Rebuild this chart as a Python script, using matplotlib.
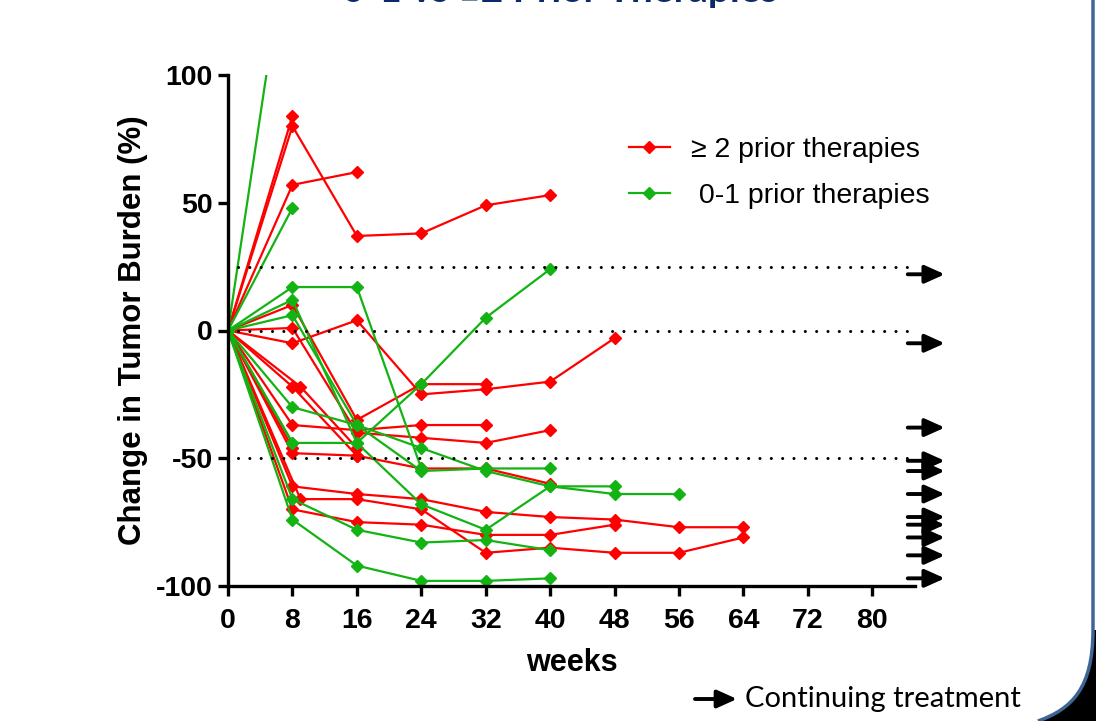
import numpy as np
import matplotlib.pyplot as plt
from matplotlib.path import Path
from matplotlib.patches import PathPatch, FancyArrowPatch
from matplotlib.lines import Line2D

plt.rcParams['axes.unicode_minus'] = False

# weeks on treatment and % change in tumor burden, one list per patient
red_weeks = [
    [0, 8], [0, 8, 16, 24, 32, 40], [0, 8, 16], [0, 8, 16, 24, 32],
    [0, 8, 16, 24, 32, 40], [0, 8, 16, 24, 32, 40, 48], [0, 8, 16, 24, 32],
    [0, 8, 16, 24, 32, 40], [0, 9, 16], [0, 8, 16], [0, 8],
    [0, 8, 16, 24, 32, 40, 48, 56, 64], [0, 9, 16, 24, 32, 40, 48, 56, 64],
    [0, 8, 16, 24, 32, 40, 48],
]
red_change = [
    [0, 84], [0, 80, 37, 38, 49, 53], [0, 57, 62], [0, 10, -35, -21, -21],
    [0, 1, -40, -42, -44, -39], [0, -5, 4, -25, -23, -20, -3], [0, -37, -39, -37, -37],
    [0, -22, -49, -54, -54, -60], [0, -22, -46], [0, -48, -49], [0, -46],
    [0, -61, -64, -66, -71, -73, -74, -77, -77], [0, -66, -66, -70, -87, -85, -87, -87, -81],
    [0, -70, -75, -76, -80, -80, -76],
]
green_weeks = [
    [0, 8], [0, 8], [0, 8, 16, 24], [0, 8, 16, 24, 32, 40, 48],
    [0, 8, 16, 24, 32, 40], [0, 8, 16, 24, 32, 40, 48, 56], [0, 8, 16, 24, 32, 40],
    [0, 8], [0, 8, 16, 24, 32, 40], [0, 8, 16, 24, 32, 40],
]
green_change = [
    [0, 168], [0, 48], [0, 17, 17, -54], [0, 12, -44, -68, -78, -61, -61],
    [0, 6, -37, -55, -54, -54], [0, -30, -37, -46, -55, -61, -64, -64], [0, -44, -44, -21, 5, 24],
    [0, -44], [0, -66, -78, -83, -82, -86], [0, -74, -92, -98, -98, -97],
]
# patients still on treatment
continuing = [22, -5, -38, -51, -55, -64, -73, -76, -81, -88, -97]
ref_levels = [25, 0, -50]
x_ticks = list(range(0, 81, 8))
y_ticks = [-100, -50, 0, 50, 100]

RED = '#FF0000'
GREEN = '#12B312'
ARROW = '-|>,head_length=0.6,head_width=0.27'

fig = plt.figure(figsize=(10.96, 7.21), dpi=100)
ax = fig.add_axes([228 / 1096, 1 - 586 / 721, 687 / 1096, 511 / 721])

for wk, val in zip(red_weeks, red_change):
    ax.plot(wk, val, color=RED, lw=1.6, marker='D', ms=6.5, mec=RED)
for wk, val in zip(green_weeks, green_change):
    ax.plot(wk, val, color=GREEN, lw=1.6, marker='D', ms=6.5, mec=GREEN)

for lvl in ref_levels:
    ax.plot([1.2, 84.5], [lvl, lvl], color='black', lw=2.2,
            linestyle=(0, (0.01, 3.7)), dash_capstyle='round', clip_on=False)

for v in continuing:
    ax.annotate('', xy=(89.0, v), xytext=(84.4, v), annotation_clip=False,
                arrowprops=dict(arrowstyle=ARROW, color='black', lw=2.8,
                                mutation_scale=20, shrinkA=0, shrinkB=0))

ax.set_xlim(0, 85.3)
ax.set_ylim(-100, 100)
ax.set_xticks(x_ticks)
ax.set_yticks(y_ticks)
ax.spines['top'].set_visible(False)
ax.spines['right'].set_visible(False)
for s in ('left', 'bottom'):
    ax.spines[s].set_linewidth(2.4)
ax.tick_params(length=7, width=2.4, labelsize=20.5)
ax.tick_params(axis='x', pad=9)
ax.tick_params(axis='y', pad=4)
for lab in ax.get_xticklabels() + ax.get_yticklabels():
    lab.set_fontweight('bold')
    lab.set_family('Liberation Sans')
ax.set_xlabel('weeks', fontsize=22, fontweight='bold', family='Liberation Sans', labelpad=10)
ax.set_ylabel('Change in Tumor Burden (%)', fontsize=22.5, fontweight='bold',
              family='Liberation Sans', labelpad=6)

handles = [Line2D([], [], color=RED, lw=1.6, marker='D', ms=6.5),
           Line2D([], [], color=GREEN, lw=1.6, marker='D', ms=6.5)]
ax.legend(handles, ['\u2265 2 prior therapies', ' 0-1 prior therapies'],
          loc='upper left', bbox_to_anchor=(0.546, 0.929), frameon=False,
          prop={'family': 'Liberation Sans', 'size': 20.5},
          handlelength=1.45, handletextpad=0.75, labelspacing=0.72)

fig.text(560 / 1096, 1 - 2 / 721, '0-1 vs \u22652 Prior Therapies', ha='center',
         va='baseline', color='#0B2A6B', fontsize=28, fontweight='bold',
         family=['Lato', 'DejaVu Sans'])

# footnote for the arrows
fig.patches.append(FancyArrowPatch(
    (695 / 1096, 1 - 699 / 721), (737 / 1096, 1 - 699 / 721), transform=fig.transFigure,
    arrowstyle=ARROW, mutation_scale=20, color='black', lw=2.8, shrinkA=0, shrinkB=0))
fig.text(745 / 1096, 1 - 699 / 721, 'Continuing treatment', ha='left', va='center',
         fontsize=21, family=['Lato', 'DejaVu Sans'])

# slide frame on the right with rounded bottom corner
W, H = 1096, 721
def fp(x, y):
    return (x / W, 1 - y / H)
corner = Path([fp(1093, 630), fp(1093, 688), fp(1072, 709), fp(1038, 721),
               fp(1096, 721), fp(1096, 630), fp(1093, 630)],
              [Path.MOVETO, Path.CURVE4, Path.CURVE4, Path.CURVE4,
               Path.LINETO, Path.LINETO, Path.CLOSEPOLY])
fig.patches.append(PathPatch(corner, transform=fig.transFigure, facecolor='black',
                             edgecolor='none'))
frame = Path([fp(1093, 0), fp(1093, 630), fp(1093, 688), fp(1072, 709), fp(1038, 721)],
             [Path.MOVETO, Path.LINETO, Path.CURVE4, Path.CURVE4, Path.CURVE4])
fig.patches.append(PathPatch(frame, transform=fig.transFigure, facecolor='none',
                             edgecolor='#3F6496', lw=2.5))

fig.savefig('out.png', dpi=100)
